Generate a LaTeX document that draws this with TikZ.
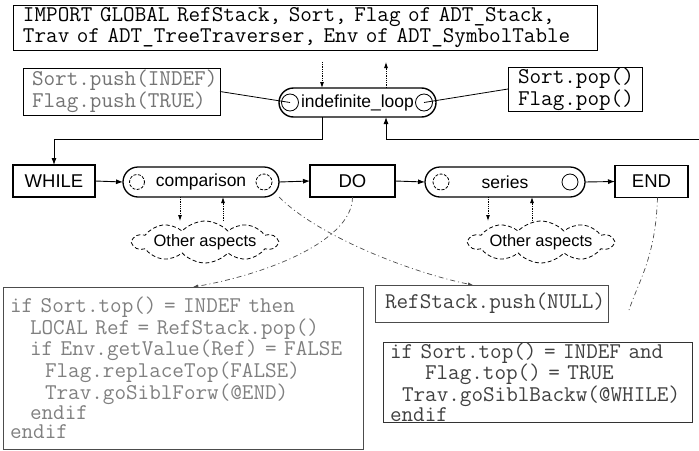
\documentclass[tikz,border=0pt]{standalone}
\usepackage{fontspec}
\setmainfont{Liberation Sans}
\usetikzlibrary{arrows.meta,shapes.symbols,calc}

\begin{document}
\begin{tikzpicture}[x=1pt,y=-1pt,
  every node/.style={inner sep=0pt, outer sep=0pt},
  codebox/.style={draw, line width=0.8pt, anchor=north west, align=left,
    font=\ttfamily\fontsize{22.5}{19.5}\selectfont},
  kw/.style={draw, line width=1.1pt, minimum height=32pt,
    font=\fontsize{18.5}{20}\selectfont},
  pill/.style={draw, line width=1.3pt, rounded corners=14.5pt,
    minimum height=29pt, font=\fontsize{17.5}{20}\selectfont},
  port/.style={line width=0.8pt},
  dport/.style={line width=0.8pt, dash pattern=on 3pt off 1.5pt},
  othercloud/.style={cloud, cloud puffs=10, cloud puff arc=95, cloud ignores aspect,
    draw, dash pattern=on 4pt off 2.5pt, line width=0.8pt, minimum width=144pt, minimum height=42pt,
    font=\fontsize{16.5}{18}\selectfont},
  flow/.style={line width=0.9pt, -{Latex[length=7pt,width=5pt]}},
  joinline/.style={line width=0.8pt},
  dotarrow/.style={densely dotted, line width=0.8pt, -{Latex[length=6pt,width=4pt]}},
  tracepath/.style={line width=0.7pt, black!70,
    dash pattern=on 5pt off 3pt on 1pt off 3pt},
]
\useasboundingbox (0,0) rectangle (699,450);

% ---- imports and loop actions
\node[codebox, inner xsep=10pt, text width=564pt, minimum height=45pt,
      font=\ttfamily\fontsize{22.5}{21.5}\selectfont] (import) at (13,5)
  {IMPORT GLOBAL RefStack, Sort, Flag of ADT\_Stack,\\
   Trav of ADT\_TreeTraverser, Env of ADT\_SymbolTable};

\node[codebox, inner xsep=9pt, text width=179pt, minimum height=47pt,
      text=black!55, font=\ttfamily\fontsize{22.5}{18.5}\selectfont] (push) at (23,68)
  {Sort.push(INDEF)\\ Flag.push(TRUE)};

\node[codebox, inner xsep=10pt, text width=114pt, minimum height=44pt,
      font=\ttfamily\fontsize{22.5}{20}\selectfont] (pop) at (508,67)
  {Sort.pop()\\ Flag.pop()};

\node[pill, minimum width=157pt, line width=1.4pt] (loop) at (357.5,102.5) {indefinite\_loop};
\draw[port] ($(loop.west)+(11,0)$) circle[radius=8.5];
\draw[port] ($(loop.east)+(-12,0)$) circle[radius=8.5];
\coordinate (loopin) at ($(loop.west)+(11,0)$);
\coordinate (loopout) at ($(loop.east)+(-12,0)$);
\draw[joinline] (push.east) -- (loopin);
\draw[joinline] (loopout) -- (pop.west);

\coordinate (imp1) at (322,62);
\coordinate (imp2) at (386,62);
\draw[dotarrow] (imp1) -- (imp1 |- loop.north);
\draw[dotarrow] (imp2 |- loop.north) -- (imp2);

% ---- main sequence
\node[kw, minimum width=82pt] (while) at (54,181) {WHILE};
\node[pill, minimum width=156pt, minimum height=30pt, rounded corners=15pt] (cmp) at (201,182) {comparison};
\node[kw, minimum width=85pt] (do) at (352.5,181) {DO};
\node[pill, minimum width=160pt, minimum height=30pt, rounded corners=15pt] (ser) at (505,182) {series};
\node[kw, minimum width=73pt] (end) at (651.5,181.5) {END};

\draw[dport] ($(cmp.west)+(14,0)$) circle[radius=7.5];
\draw[dport] ($(cmp.east)+(-15,0)$) circle[radius=8];
\draw[dport] ($(ser.west)+(16,0)$) circle[radius=8];
\draw[port] ($(ser.east)+(-15,0)$) circle[radius=8];

\draw[flow] (while.east) -- (cmp.west);
\draw[flow] (cmp.east) -- (do.west);
\draw[flow] (do.east) -- (ser.west);
\draw[flow] (ser.east) -- (end.west);

\coordinate (ret) at (322,139);
\draw[flow] (ret |- loop.south) -- (ret) -| (while.north);
\coordinate (back) at (699,139);
\draw[flow] (back) -| ($(loop.south)+(28.5,0)$);

% ---- other aspects
\node[othercloud] (oa1) at (205,242) {Other aspects};
\node[othercloud] (oa2) at (541,242) {Other aspects};

\coordinate (c1a) at ($(cmp.south)+(-21,0)$);
\coordinate (c1b) at ($(cmp.south)+(22,0)$);
\draw[dotarrow] (c1a) -- (c1a |- oa1.north);
\draw[dotarrow] (c1b |- oa1.north) -- (c1b);
\coordinate (c2a) at ($(ser.south)+(-17,0)$);
\coordinate (c2b) at ($(ser.south)+(27,0)$);
\draw[dotarrow] (c2a) -- (c2a |- oa2.north);
\draw[dotarrow] (c2b |- oa2.north) -- (c2b);

% ---- attached code
\node[codebox, inner xsep=7pt, text width=346pt, minimum height=162pt,
      text=black!50, draw=black!70, font=\ttfamily\fontsize{22.5}{19.8}\selectfont] (lcode) at (3,287)
  {if Sort.top() = INDEF then\\
   \hspace*{20pt}LOCAL Ref = RefStack.pop()\\
   \hspace*{20pt}if Env.getValue(Ref) = FALSE\\
   \hspace*{35pt}Flag.replaceTop(FALSE)\\
   \hspace*{35pt}Trav.goSiblForw(@END)\\
   \hspace*{20pt}endif\\
   endif};

\node[codebox, inner xsep=10pt, text width=213pt, minimum height=37pt,
      text=black!75, draw=black!70] (refstack) at (375,285)
  {RefStack.push(NULL)};

\node[codebox, inner xsep=7pt, text width=295pt, minimum height=80pt,
      text=black!75, draw=black!80, font=\ttfamily\fontsize{22.5}{18.6}\selectfont] (rcode) at (383,342)
  {if Sort.top() = INDEF and\\
   \hspace*{35pt}Flag.top() = TRUE\\
   \hspace*{12pt}Trav.goSiblBackw(@WHILE)\\
   endif};

\draw[tracepath, -{Latex[length=5pt,width=3.5pt]}] (do.south)
  .. controls +(0,45) and +(70,-12) .. ($(lcode.north west)+(190,0)$);
\draw[tracepath, -{Latex[length=5pt,width=3.5pt]}] (cmp.south east)
  .. controls +(40,40) and +(-60,-12) .. ($(refstack.north west)+(98,0)$);
\coordinate (endtail) at (629,310);
\draw[tracepath] ($(end.south)+(6,0)$) .. controls +(-2,60) and +(10,-30) .. (endtail);
\end{tikzpicture}
\end{document}
